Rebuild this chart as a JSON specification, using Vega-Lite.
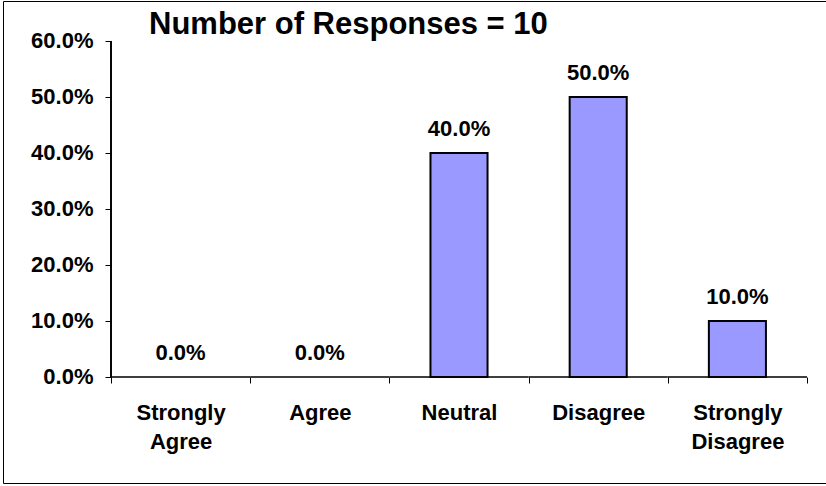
{
  "$schema": "https://vega.github.io/schema/vega-lite/v6.json",
  "width": 823,
  "height": 482,
  "autosize": {"type": "none"},
  "padding": {"left": 3, "top": 1, "right": 0, "bottom": 3},
  "background": "white",
  "config": {"view": {"stroke": "black", "strokeWidth": 1}, "font": "Liberation Sans"},
  "title": {"text": "Number of Responses = 10", "anchor": "start", "frame": "group", "dx": 146, "offset": -64, "baseline": "alphabetic", "fontSize": 31, "fontWeight": "bold", "font": "Liberation Sans", "color": "black"},
  "data": {"values": [
    {"resp": "Strongly Agree", "pct": 0},
    {"resp": "Agree", "pct": 0},
    {"resp": "Neutral", "pct": 0.4},
    {"resp": "Disagree", "pct": 0.5},
    {"resp": "Strongly Disagree", "pct": 0.1}
  ]},
  "layer": [
    {
      "mark": {"type": "bar", "fill": "white", "fillOpacity": 0, "stroke": "black", "strokeWidth": 1.5, "width": {"band": 1}},
      "encoding": {
        "x": {"field": "resp", "type": "nominal"},
        "y": {"datum": 0, "type": "quantitative"},
        "y2": {"datum": 0}
      }
    },
    {
      "transform": [{"filter": "datum.pct > 0"}],
      "mark": {"type": "bar", "fill": "#9999FF", "stroke": "black", "strokeWidth": 2, "width": {"band": 0.41}},
      "encoding": {
        "x": {"field": "resp", "type": "nominal",
          "scale": {"domain": ["Strongly Agree", "Agree", "Neutral", "Disagree", "Strongly Disagree"], "paddingInner": 0, "paddingOuter": 0.4562, "align": 0.8504},
          "axis": {"orient": "bottom", "offset": -106, "domain": false, "tickBand": "extent", "tickSize": 6, "tickColor": "black", "labelAngle": 0, "labelAlign": "center", "labelPadding": 19, "labelFontSize": 22, "labelFontWeight": "bold", "labelColor": "black", "labelFont": "Liberation Sans", "labelExpr": "split(datum.label, ' ')", "labelLineHeight": 29, "labelBaseline": "top", "title": null}},
        "y": {"field": "pct", "type": "quantitative",
          "scale": {"domain": [-0.1893, 0.6714], "nice": false, "zero": false},
          "axis": {"values": [0, 0.1, 0.2, 0.3, 0.4, 0.5, 0.6], "format": ".1%", "domain": false, "grid": false, "tickSize": 6, "tickColor": "black", "labelPadding": 12, "labelFontSize": 22, "labelFontWeight": "bold", "labelColor": "black", "labelFont": "Liberation Sans", "offset": -108, "title": null}}
      }
    },
    {
      "mark": {"type": "text", "dy": -17, "baseline": "alphabetic", "fontSize": 22, "fontWeight": "bold", "font": "Liberation Sans", "color": "black"},
      "encoding": {
        "x": {"field": "resp", "type": "nominal"},
        "y": {"field": "pct", "type": "quantitative"},
        "text": {"field": "pct", "type": "quantitative", "format": ".1%"}
      }
    },
    {
      "mark": {"type": "rule", "color": "black", "strokeWidth": 1},
      "encoding": {
        "x": {"datum": "Strongly Agree", "type": "nominal", "bandPosition": 0},
        "y": {"datum": 0, "type": "quantitative"},
        "y2": {"datum": 0.6}
      }
    }
  ]
}
